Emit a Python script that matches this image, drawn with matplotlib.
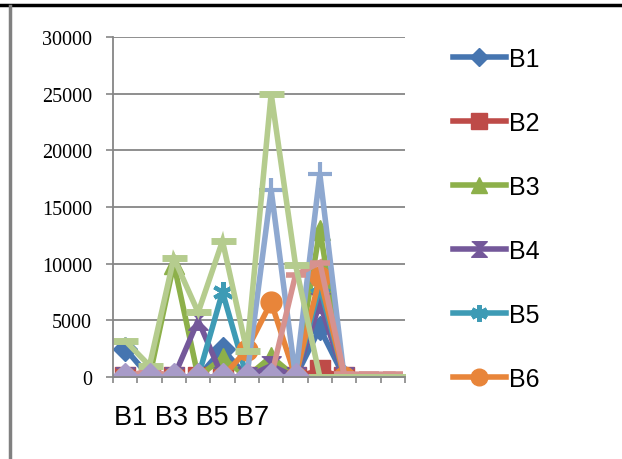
import matplotlib
matplotlib.use("Agg")
import matplotlib.pyplot as plt
from matplotlib.lines import Line2D
import numpy as np

nan = np.nan
categories = ["B1", "B2", "B3", "B4", "B5", "B6", "B7", "B8", "B9", "B10", "B11", "B12"]
series_names = ["B1", "B2", "B3", "B4", "B5", "B6", "B7", "B8", "B9", "B10"]

b1 = [2500, 0, 0, 0, 2500, 0, 0, 0, 4300, 0, nan, nan]
b2 = [0, 0, 0, 0, 0, 0, 0, 0, 600, 0, nan, nan]
b3 = [0, 0, 10000, 0, 1700, 0, 1800, 0, 13000, 0, nan, nan]
b4 = [0, 0, 0, 5000, 0, 0, 1000, 0, 6500, 0, nan, nan]
b5 = [0, 0, 0, 0, 7500, 0, 0, 0, 8000, 0, nan, nan]
b6 = [0, 0, 0, 0, 0, 2400, 6600, 0, 8800, 0, nan, nan]
b7 = [0, 0, 0, 0, 0, 0, 16500, 0, 17900, 0, nan, nan]
b8 = [0, 600, 0, 0, 0, 0, 0, 9000, 10100, 250, 250, 250]
b9 = [3200, 1000, 10500, 5700, 12000, 2300, 25000, 9900, 0, 0, 0, 0]
b10 = [0, 0, 0, 0, 0, 0, 0, 0, nan, nan, nan, nan]
values = [b1, b2, b3, b4, b5, b6, b7, b8, b9, b10]

colors = ["#4675B0", "#BE4B48", "#8DB04A", "#74589A", "#3E9BB5",
          "#E8853A", "#8EA8D0", "#D6928F", "#B5CC8E", "#A89BC8"]

hourglass = [(-1, 1), (1, 1), (0, 0), (1, -1), (-1, -1), (0, 0)]
styles = [
    dict(marker="D", markersize=12),
    dict(marker="s", markersize=14),
    dict(marker="^", markersize=14),
    dict(marker=hourglass, markersize=14),
    dict(marker=(6, 2, 0), markersize=15, markeredgewidth=3),
    dict(marker="o", markersize=15),
    dict(marker="+", markersize=17, markeredgewidth=3),
    dict(marker="_", markersize=15, markeredgewidth=4),
    dict(marker="_", markersize=18, markeredgewidth=5),
    dict(marker="D", markersize=14),
]

fig = plt.figure(figsize=(6.22, 4.6), dpi=100)
ax = fig.add_axes([113 / 622, 1 - 378 / 460, 292 / 622, 340 / 460])

x = np.arange(len(categories))
handles = []
for name, vals, c, st in zip(series_names, values, colors, styles):
    h, = ax.plot(x, vals, color=c, lw=4, markerfacecolor=c,
                 markeredgecolor=c, label=name, solid_joinstyle="miter", **st)
    handles.append(h)

ax.set_xlim(-0.5, len(categories) - 0.5)
ax.set_ylim(0, 30000)
ax.set_yticks(np.arange(0, 30001, 5000))
ax.set_yticklabels([str(v) for v in range(0, 30001, 5000)],
                   fontfamily="Liberation Serif", fontsize=14.5)
ax.yaxis.grid(True, color="#868686", lw=1.3)
ax.set_axisbelow(True)
ax.set_xticks(np.arange(-0.5, len(categories), 1))
ax.set_xticklabels([])
ax.tick_params(axis="y", length=5, width=1.2, color="#868686", pad=10)
ax.tick_params(axis="x", length=4, width=1.2, color="#868686")
for s in ["top", "right"]:
    ax.spines[s].set_visible(False)
for s in ["left", "bottom"]:
    ax.spines[s].set_color("#868686")
    ax.spines[s].set_linewidth(1.3)

ax.text(0.005, -0.08, "B1 B3 B5 B7", transform=ax.transAxes, ha="left", va="top",
        fontsize=19.5, fontfamily="Liberation Sans")

leg = fig.legend(handles[:6], series_names[:6], loc="upper left",
                 bbox_to_anchor=(443 / 622, 1 - 38 / 460), frameon=False,
                 prop={"family": "Liberation Sans", "size": 18},
                 handlelength=2.1, handletextpad=0.15, labelspacing=1.6,
                 markerscale=0.8, borderaxespad=0)

fig.add_artist(Line2D([0, 1], [1 - 5.5 / 460, 1 - 5.5 / 460], color="black", lw=2.5,
                      transform=fig.transFigure))
fig.add_artist(Line2D([10 / 622, 10 / 622], [0, 1 - 7 / 460], color="#808080", lw=2.5,
                      transform=fig.transFigure))

fig.savefig("out.png", dpi=100)
